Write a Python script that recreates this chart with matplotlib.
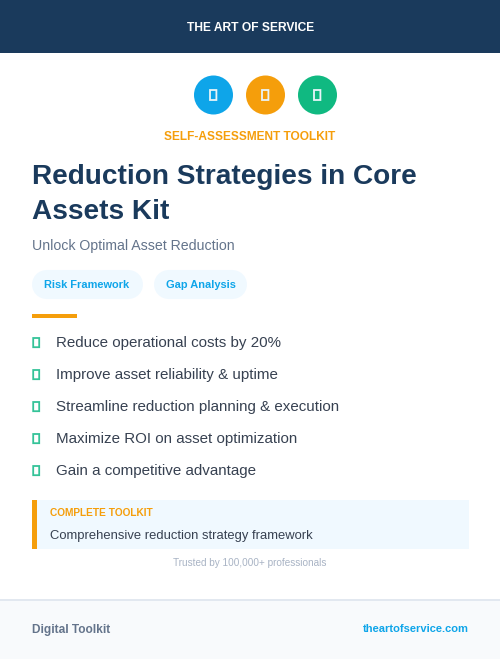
import matplotlib
matplotlib.use('Agg')
import matplotlib.pyplot as plt
from matplotlib.patches import Rectangle, Circle

plt.rcParams['font.family'] = ['Liberation Sans', 'DejaVu Sans']

NAVY = '#1a3a5c'
AMBER = '#f59e0b'
SKY = '#0ea5e9'
GREEN = '#10b981'
SLATE = '#374151'
GREY = '#64748b'

brand = 'THE ART OF SERVICE'
kicker = 'SELF-ASSESSMENT TOOLKIT'
title_lines = ['Reduction Strategies in Core', 'Assets Kit']
subtitle = 'Unlock Optimal Asset Reduction'
tags = ['Risk Framework', 'Gap Analysis']
benefits = ['Reduce operational costs by 20%',
            'Improve asset reliability & uptime',
            'Streamline reduction planning & execution',
            'Maximize ROI on asset optimization',
            'Gain a competitive advantage']
box_head = 'COMPLETE TOOLKIT'
box_text = 'Comprehensive reduction strategy framework'
trust = 'Trusted by 100,000+ professionals'
foot_left = 'Digital Toolkit'
foot_right = 'theartofservice.com'
icon_colors = [SKY, AMBER, GREEN]

fig = plt.figure(figsize=(5, 6.59), dpi=100, facecolor='white')
ax = fig.add_axes([0, 0, 1, 1])
ax.set_xlim(0, 500)
ax.set_ylim(659, 0)
ax.axis('off')


def rect(x, y, w, h, color):
    ax.add_patch(Rectangle((x, y), w, h, facecolor=color, edgecolor='none'))


def tofu(x, y, w, h, color):
    # missing glyph boxes from the original
    ax.add_patch(Rectangle((x, y), w, h, facecolor='none', edgecolor=color, linewidth=1.3, snap=False))


def label(x, y, s, size, color, weight='normal', ha='left'):
    ax.text(x, y, s, fontsize=size, color=color, fontweight=weight, ha=ha, va='baseline')


# header
rect(0, 0, 500, 53, NAVY)
label(250.5, 31, brand, 8.65, 'white', 'bold', 'center')

# icons
for i, c in enumerate(icon_colors):
    cx = 213.5 + i * 52
    ax.add_patch(Circle((cx, 95), 19.5, facecolor=c, edgecolor='none'))
    tofu(cx - 3.5, 90, 6.4, 10, '#e8f4f8')

label(249.5, 140, kicker, 8.55, AMBER, 'bold', 'center')

# title
label(32, 184, title_lines[0], 20.2, NAVY, 'bold')
label(32, 219, title_lines[1], 20.2, NAVY, 'bold')
label(32, 250, subtitle, 10.2, GREY)

# tags
tag_x = [32, 154]
tag_w = [111, 93]
for x, w, t in zip(tag_x, tag_w, tags):
    ax.plot([x + 14.5, x + w - 14.5], [284.5, 284.5], color='#f0f9ff', lw=20.9,
            solid_capstyle='round', snap=False)
    label(x + 12, 287.5, t, 7.9, SKY, 'bold')

rect(32, 314, 45, 4, AMBER)

# benefits
for i, b in enumerate(benefits):
    tofu(33.2, 338 + i * 32, 6, 9.2, '#34c398')
    label(56, 347 + i * 32, b, 10.9, SLATE)

# callout
rect(32, 500, 437, 49, '#f0f9ff')
rect(32, 500, 5, 49, AMBER)
label(50, 516, box_head, 7.3, AMBER, 'bold')
label(50, 539, box_text, 9.4, SLATE)
label(250, 566, trust, 7.2, '#a8b3c4', 'normal', 'center')

# footer
rect(0, 600, 500, 59, '#f8fafc')
rect(0, 599, 500, 2, '#e2e8f0')
label(32, 633, foot_left, 8.6, GREY, 'bold')
label(469, 632, foot_right, 8.0, SKY, 'bold', 'right')

fig.savefig('out.png', dpi=100, facecolor='white')
